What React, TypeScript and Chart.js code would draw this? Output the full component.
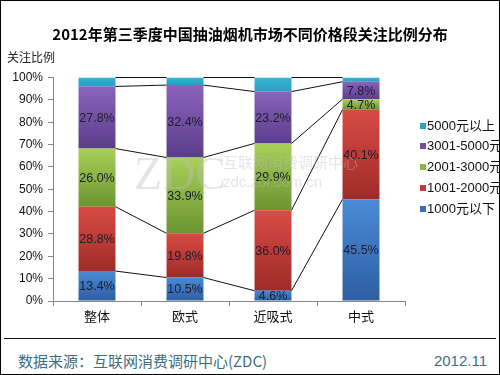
import React, { useEffect, useRef } from "react";
import { Chart, registerables } from "chart.js";

Chart.register(...registerables);

// ---------- data ----------
const categories = ["整体", "欧式", "近吸式", "中式"];
const seriesNames = ["1000元以下", "1001-2000元", "2001-3000元", "3001-5000元", "5000元以上"];
const below1000 = [13.4, 10.5, 4.6, 45.5];
const from1001to2000 = [28.8, 19.8, 36.0, 40.1];
const from2001to3000 = [26.0, 33.9, 29.9, 4.7];
const from3001to5000 = [27.8, 32.4, 23.2, 7.8];
const above5000 = [4.0, 3.4, 6.3, 1.9];
const labelledSeries = [true, true, true, true, false];
const yTickValues = [0, 10, 20, 30, 40, 50, 60, 70, 80, 90, 100];

const titleText = "2012年第三季度中国抽油烟机市场不同价格段关注比例分布";
const yAxisTitle = "关注比例";
const sourceText = "数据来源：互联网消费调研中心(ZDC)";
const dateText = "2012.11";

const seriesValues = [below1000, from1001to2000, from2001to3000, from3001to5000, above5000];

// ---------- styles ----------
const gradTop = ["#4b8ad6", "#d94b45", "#a8d058", "#8b63bd", "#35b6d6"];
const gradBottom = ["#2d5fa3", "#9e2b28", "#6c9431", "#5b3d8a", "#2a9cbf"];
const legendColors = ["#3a6fb6", "#c23a38", "#8cb545", "#7050a4", "#2ca4c6"];
const SANS = '"Liberation Sans", "Noto Sans CJK SC", sans-serif';
const CJK = '"Noto Sans CJK SC", "Liberation Sans", sans-serif';

function gradientFill(seriesIndex: number) {
  return (ctx: any) => {
    const chart = ctx.chart;
    const flat = legendColors[seriesIndex];
    if (!chart.chartArea || ctx.type !== "data") return flat;
    const yScale = chart.scales.y;
    let base = 0;
    for (let d = 0; d < seriesIndex; d++) base += seriesValues[d][ctx.dataIndex];
    const top = base + seriesValues[seriesIndex][ctx.dataIndex];
    const y0 = yScale.getPixelForValue(top);
    const y1 = yScale.getPixelForValue(base);
    if (!isFinite(y0) || !isFinite(y1) || Math.abs(y1 - y0) < 0.5) return flat;
    const g = chart.ctx.createLinearGradient(0, y0, 0, y1);
    g.addColorStop(0, gradTop[seriesIndex]);
    g.addColorStop(1, gradBottom[seriesIndex]);
    return g;
  };
}

const connectorPlugin = {
  id: "connectors",
  afterDatasetsDraw(chart: any) {
    const ctx = chart.ctx;
    ctx.save();
    ctx.strokeStyle = "#111111";
    ctx.lineWidth = 1;
    chart.data.datasets.forEach((_: any, di: number) => {
      const meta = chart.getDatasetMeta(di);
      const els = meta.data;
      for (let i = 0; i < els.length - 1; i++) {
        const a = els[i];
        const b = els[i + 1];
        ctx.beginPath();
        ctx.moveTo(a.x + a.width / 2, a.y);
        ctx.lineTo(b.x - b.width / 2, b.y);
        ctx.stroke();
      }
    });
    ctx.restore();
  },
};

const valueLabelPlugin = {
  id: "valueLabels",
  afterDatasetsDraw(chart: any) {
    const ctx = chart.ctx;
    ctx.save();
    ctx.font = "12.5px " + SANS;
    ctx.fillStyle = "#1c1c2c";
    ctx.textAlign = "center";
    ctx.textBaseline = "middle";
    chart.data.datasets.forEach((ds: any, di: number) => {
      if (!labelledSeries[di]) return;
      const meta = chart.getDatasetMeta(di);
      meta.data.forEach((el: any, i: number) => {
        const v = ds.data[i];
        ctx.fillText(v.toFixed(1) + "%", el.x, (el.y + el.base) / 2 + 1);
      });
    });
    ctx.restore();
  },
};

const sideLegendPlugin = {
  id: "sideLegend",
  afterDraw(chart: any) {
    const ctx = chart.ctx;
    const area = chart.chartArea;
    const boxX = area.right + 15;
    const spacing = 20.75;
    const mid = 167;
    ctx.save();
    ctx.font = "13px " + SANS;
    ctx.textBaseline = "middle";
    ctx.textAlign = "left";
    const n = seriesNames.length;
    for (let k = 0; k < n; k++) {
      const idx = n - 1 - k;
      const y = mid + (k - (n - 1) / 2) * spacing;
      ctx.fillStyle = legendColors[idx];
      ctx.fillRect(boxX, Math.round(y) - 3, 6, 6);
      ctx.fillStyle = "#111111";
      ctx.fillText(seriesNames[idx], boxX + 7, y + 0.5);
    }
    ctx.restore();
  },
};

const watermarkPlugin = {
  id: "watermark",
  afterDraw(chart: any) {
    const ctx = chart.ctx;
    ctx.save();
    ctx.fillStyle = "rgba(190,190,190,0.4)";
    ctx.textBaseline = "alphabetic";
    ctx.font = '46px "Liberation Serif", serif';
    ctx.fillText("ZDC", 134, 189);
    ctx.font = "15px " + CJK;
    ctx.fillText("互联网消费调研中心", 223, 168);
    ctx.font = "15px " + SANS;
    ctx.fillText("zdc.zol.com.cn", 223, 187);
    ctx.restore();
  },
};

export default function App() {
  const canvasRef = useRef<HTMLCanvasElement | null>(null);

  useEffect(() => {
    if (!canvasRef.current) return;
    const chart = new Chart(canvasRef.current, {
      type: "bar",
      data: {
        labels: categories,
        datasets: seriesValues.map((vals, i) => ({
          label: seriesNames[i],
          data: vals,
          backgroundColor: gradientFill(i),
          borderWidth: 0,
          categoryPercentage: 1,
          barPercentage: 0.42,
        })),
      },
      options: {
        animation: false,
        responsive: false,
        devicePixelRatio: 1,
        layout: { padding: 0 },
        plugins: {
          legend: { display: false },
          tooltip: { enabled: false },
          title: {
            display: true,
            text: titleText,
            color: "#000000",
            font: { size: 15, weight: "bold", family: CJK },
            padding: { top: 25, bottom: 34.5 },
          },
        },
        scales: {
          x: {
            stacked: true,
            grid: {
              display: true,
              drawOnChartArea: false,
              drawTicks: true,
              tickLength: 5,
              color: "#868686",
              offset: true,
            },
            border: { display: true, color: "#868686", width: 1 },
            ticks: { color: "#111111", font: { size: 13, family: CJK }, padding: 2 },
            afterFit: (s: any) => {
              s.height = 37;
            },
          },
          y: {
            stacked: true,
            min: 0,
            max: 100,
            afterBuildTicks: (s: any) => {
              s.ticks = yTickValues.map((v) => ({ value: v }));
            },
            grid: {
              display: true,
              drawOnChartArea: false,
              drawTicks: true,
              tickLength: 5,
              color: "#868686",
            },
            border: { display: true, color: "#868686", width: 1 },
            ticks: {
              color: "#111111",
              font: { size: 12, family: SANS },
              padding: 5,
              callback: (v: any) => v + "%",
            },
            afterFit: (s: any) => {
              s.width = 53;
            },
          },
          legendSpace: {
            type: "linear",
            position: "right",
            display: true,
            grid: { display: false, drawTicks: false },
            border: { display: false },
            ticks: { display: false },
            afterFit: (s: any) => {
              s.width = 95;
            },
          },
        },
      },
      plugins: [connectorPlugin, valueLabelPlugin, sideLegendPlugin, watermarkPlugin],
    });
    return () => chart.destroy();
  }, []);

  return (
    <div
      style={{
        position: "fixed",
        left: 0,
        top: 0,
        width: 500,
        height: 375,
        background: "#ffffff",
        overflow: "hidden",
      }}
    >
      <canvas
        ref={canvasRef}
        width={500}
        height={338}
        style={{ position: "absolute", left: 0, top: 0, width: 500, height: 338 }}
      />
      <div
        style={{
          position: "absolute",
          left: 7,
          top: 49,
          fontFamily: CJK,
          fontSize: 12,
          lineHeight: "16px",
          color: "#222222",
          whiteSpace: "nowrap",
        }}
      >
        {yAxisTitle}
      </div>
      <div
        style={{
          position: "absolute",
          left: 4,
          top: 338,
          width: 492,
          height: 1,
          background: "#111111",
        }}
      />
      <div
        style={{
          position: "absolute",
          left: 18,
          top: 350,
          fontFamily: CJK,
          fontSize: 15,
          lineHeight: "22px",
          color: "#3d6f80",
          whiteSpace: "nowrap",
        }}
      >
        {sourceText}
      </div>
      <div
        style={{
          position: "absolute",
          right: 13,
          top: 350,
          fontFamily: SANS,
          fontSize: 15,
          lineHeight: "22px",
          color: "#3d6f80",
          whiteSpace: "nowrap",
        }}
      >
        {dateText}
      </div>
      <div
        style={{
          position: "absolute",
          left: 0,
          top: 0,
          width: 500,
          height: 375,
          boxSizing: "border-box",
          border: "1px solid #000000",
          pointerEvents: "none",
        }}
      />
    </div>
  );
}
